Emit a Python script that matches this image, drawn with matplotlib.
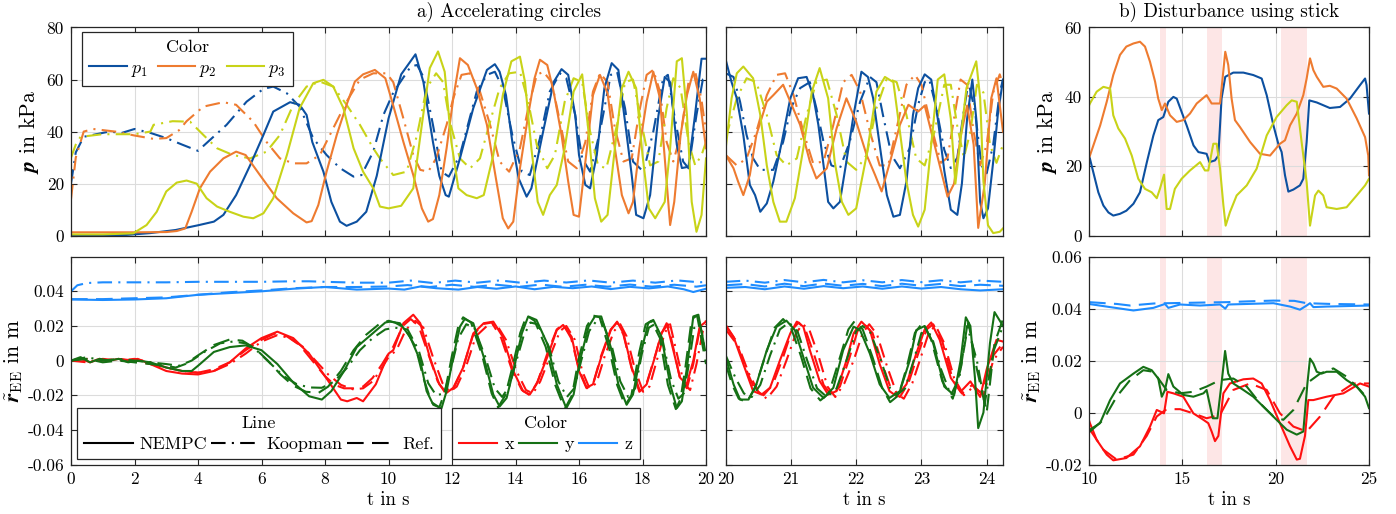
import matplotlib
matplotlib.use("Agg")
import matplotlib.pyplot as plt
from matplotlib.lines import Line2D

plt.rcParams['font.family'] = 'serif'
plt.rcParams['font.serif'] = ['cmr10']
plt.rcParams['mathtext.fontset'] = 'cm'
plt.rcParams['axes.unicode_minus'] = False
plt.rcParams['font.size'] = 12
plt.rcParams['lines.solid_joinstyle'] = 'round'
plt.rcParams['lines.dash_joinstyle'] = 'round'

# Colours
c_p1, c_p2, c_p3 = '#0c50a0', '#ee7b30', '#c8d318'
c_x, c_y, c_z = '#ff1010', '#157015', '#1e8cff'
c_shade = '#fde6e6'

# ---------------- a) accelerating circles, pressures (kPa) ----------------
p1_nempc_t = [0, 1, 1.75, 2.5, 3.3, 4.0, 4.5, 4.8, 5.2, 5.64, 6.06, 6.37, 6.9, 7.2, 7.42, 7.6, 7.95, 8.2, 8.47, 8.68,
              9.0, 9.3, 9.63, 10.0, 10.4, 10.85, 11.1, 11.4, 11.6, 11.8, 11.9, 12.25, 12.67, 13.1, 13.35, 13.5, 13.7,
              13.9, 14.1, 14.35, 14.5, 14.87, 15.2, 15.45, 15.66, 15.88, 16.0, 16.2, 16.35, 16.56, 16.8, 17.03, 17.24,
              17.45, 17.66, 17.8, 18.03, 18.24, 18.5, 18.7, 18.87, 19.08, 19.24, 19.45, 19.65, 19.86, 20.0]
p1_nempc = [0.2, 0.2, 0.3, 1.0, 2.2, 4.0, 5.4, 8.0, 15.6, 27.0, 38.7, 47.7, 51.3, 50.3, 46.4, 36.0, 24.6, 13.0, 5.4, 3.8,
            5.4, 9.2, 23.0, 45.0, 62.0, 69.7, 59.0, 36.0, 23.0, 15.6, 15.0, 29.7, 49.0, 63.7, 65.9, 63.0, 54.0,
            36.0, 22.0, 15.0, 18.2, 40.0, 59.0, 64.0, 61.8, 46.4, 31.0, 19.5, 18.2, 31.0, 56.7, 66.3, 63.7,
            43.8, 23.3, 8.0, 6.7, 15.6, 46.0, 61.0, 59.0, 35.0, 26.0, 26.5, 46.0, 68.0, 68.0]
p1_koop_t = [0, 0.15, 0.4, 0.8, 1.2, 1.6, 2.0, 2.5, 3.0, 3.5, 4.0, 4.9, 5.53, 6.06, 6.37, 6.8, 7.2, 7.63, 8.05, 8.47,
             8.9, 9.15, 9.52, 9.84, 10.15, 10.7, 10.9, 11.1, 11.4, 11.67, 11.9, 12.25, 12.78, 13.1, 13.35, 13.6, 13.9,
             14.2, 14.45, 14.77, 15.08, 15.4, 15.6, 15.88, 16.1, 16.35, 16.66, 17.0, 17.2, 17.45, 17.7, 18.03, 18.34,
             18.65, 18.8, 19.0, 19.28, 19.45, 19.7, 19.9, 20.0]
p1_koop = [20.0, 32.0, 38.0, 39.0, 40.0, 39.5, 41.0, 39.5, 37.5, 35.0, 32.6, 42.6, 51.5, 56.4, 57.3, 54.7, 49.6, 37.4,
           31.0, 26.0, 22.7, 23.3, 32.3, 46.4, 55.0, 65.0, 65.6, 61.0, 42.6, 24.6, 22.7, 31.0, 55.4, 61.8, 63.0, 56.7,
           38.7, 24.6, 23.3, 37.4, 55.4, 62.4, 60.5, 46.4, 29.7, 24.6, 40.0, 61.8, 63.0, 49.0, 28.5, 24.6, 40.0,
           60.5, 61.8, 46.4, 28.5, 25.9, 46.4, 60.0, 60.5]
p2_nempc_t = [0, 1, 2, 3, 3.33, 3.6, 3.8, 4.06, 4.38, 4.8, 5.2, 5.5, 5.95, 6.48, 7.0, 7.42, 7.58, 7.79, 8.05, 8.37,
              8.68, 8.94, 9.2, 9.57, 9.9, 10.15, 10.47, 10.78, 11.05, 11.25, 11.4, 11.6, 11.83, 12.04, 12.25, 12.5,
              12.78, 13.1, 13.4, 13.6, 13.77, 13.93, 14.14, 14.4, 14.6, 14.77, 15.0, 15.2, 15.45, 15.66, 15.83, 16.0,
              16.25, 16.44, 16.66, 16.9, 17.1, 17.35, 17.56, 17.7, 17.9, 18.13, 18.34, 18.55, 18.76, 18.87, 19.0,
              19.2, 19.4, 19.6, 19.8, 20.0]
p2_nempc = [1.3, 1.3, 1.3, 1.4, 1.8, 2.8, 9.2, 18.2, 24.6, 29.7, 32.3, 31.0, 23.3, 14.4, 8.6, 5.1, 5.6, 11.8, 24.6, 38.7,
            50.3, 59.2, 62.0, 63.7, 60.5, 50.0, 36.0, 23.3, 10.5, 5.4, 6.4, 15.6, 33.6, 52.8, 68.2, 65.6,
            56.7, 42.6, 20.8, 6.7, 2.8, 5.4, 25.9, 46.4, 60.5, 67.6, 65.6, 55.4, 38.7, 20.8, 8.0, 7.3,
            33.6, 54.0, 61.8, 54.7, 36.0, 15.6, 8.6, 13.0, 33.6, 51.5, 63.0, 52.8, 20.8, 4.1, 13.0,
            38.7, 54.0, 63.0, 52.8, 33.6]
p2_koop_t = [0, 0.15, 0.4, 0.7, 1.4, 2.0, 2.6, 3.0, 3.4, 3.64, 4.17, 4.8, 5.2, 5.74, 6.16, 6.58, 7.0, 7.42, 7.84, 8.26,
             8.68, 9.1, 9.52, 9.94, 10.15, 10.47, 10.78, 11.0, 11.25, 11.5, 11.83, 12.04, 12.3, 12.57, 12.88, 13.2,
             13.5, 13.8, 14.14, 14.4, 14.67, 14.88, 15.14, 15.4, 15.66, 15.93, 16.2, 16.44, 16.66, 16.9, 17.13, 17.4,
             17.66, 17.9, 18.13, 18.34, 18.55, 18.76, 18.97, 19.2, 19.45, 19.66, 19.85, 20.0]
p2_koop = [14.0, 30.0, 40.0, 41.0, 40.0, 38.5, 37.2, 37.5, 40.5, 44.0, 49.6, 51.3, 50.3, 43.8, 36.0, 29.7, 27.8, 27.8,
           31.0, 41.3, 51.5, 60.0, 62.4, 62.4, 59.0, 45.0, 31.0, 25.3, 24.6, 29.7, 42.6, 52.8, 61.8, 62.4, 55.4, 42.6,
           28.5, 24.6, 33.6, 49.0, 61.8, 63.0, 59.0, 43.8, 28.5, 25.9, 36.0, 55.4, 62.4, 59.0, 41.3, 28.5,
           29.7, 47.7, 61.8, 63.7, 55.4, 36.0, 28.5, 38.7, 59.0, 63.0, 52.8, 40.0]
p3_nempc_t = [0, 1, 1.96, 2.38, 2.7, 3.0, 3.33, 3.64, 3.96, 4.27, 4.6, 5.0, 5.43, 5.74, 6.06, 6.37, 6.8, 7.2, 7.63, 7.95,
              8.26, 8.58, 8.9, 9.2, 9.52, 9.73, 10.0, 10.4, 10.78, 11.05, 11.3, 11.56, 11.77, 11.98, 12.2, 12.46,
              12.78, 13.0, 13.3, 13.6, 13.87, 14.14, 14.3, 14.5, 14.7, 14.87, 15.08, 15.3, 15.55, 15.83, 16.1, 16.3,
              16.5, 16.7, 16.9, 17.13, 17.35, 17.56, 17.8, 18.0, 18.2, 18.4, 18.7, 18.87, 19.08, 19.24, 19.4, 19.55,
              19.7, 19.86, 20.0]
p3_nempc = [0.5, 0.5, 0.9, 4.1, 9.2, 17.0, 20.4, 21.2, 20.0, 14.4, 11.2, 9.2, 7.3, 6.7, 8.6, 14.4, 31.0, 49.0, 58.6, 59.9,
            57.3, 49.0, 33.6, 24.6, 18.2, 11.2, 10.5, 11.5, 18.2, 42.6, 64.4, 70.8, 63.0, 36.0, 18.2, 15.6,
            14.4, 15.6, 31.0, 54.0, 67.0, 68.8, 59.0, 33.6, 13.0, 8.0, 15.6, 19.5, 33.6, 55.4, 62.0, 40.0,
            14.4, 5.4, 8.0, 33.6, 56.7, 63.0, 56.7, 31.0, 10.5, 6.7, 13.0, 33.6, 67.0, 68.2, 46.4, 13.0,
            1.5, 8.0, 29.7]
p3_koop_t = [0, 0.15, 0.3, 1.0, 2.0, 2.5, 2.6, 3.2, 3.75, 4.17, 4.6, 5.1, 5.64, 6.16, 6.58, 7.0, 7.42, 7.84, 8.26, 8.68,
             9.1, 9.52, 9.73, 10.15, 10.57, 10.9, 11.2, 11.5, 11.72, 11.93, 12.25, 12.57, 12.88, 13.2, 13.5, 13.8,
             14.14, 14.4, 14.67, 15.0, 15.24, 15.55, 15.83, 16.1, 16.35, 16.6, 16.86, 17.2, 17.45, 17.7, 18.0, 18.24,
             18.5, 18.76, 18.97, 19.2, 19.45, 19.66, 19.86, 20.0]
p3_koop = [30.0, 35.0, 38.0, 39.0, 39.0, 40.0, 42.6, 44.0, 43.8, 38.7, 33.6, 31.0, 29.7, 32.3, 38.7, 50.3, 57.3, 59.2,
           57.3, 50.3, 42.6, 33.6, 29.7, 23.3, 24.6, 38.7, 56.7, 62.4, 59.0, 43.8, 29.7, 25.9, 29.7, 43.8, 56.7, 62.4,
           63.0, 51.5, 34.9, 25.9, 31.0, 51.5, 60.5, 59.0, 40.0, 27.0, 25.9, 42.6, 59.0, 60.0, 41.3, 27.0,
           28.5, 49.0, 60.5, 56.7, 36.0, 27.0, 31.0, 36.0]

# continuation 20 s .. 24.25 s
p1m_nempc_t = [20.0, 20.09, 20.17, 20.27, 20.37, 20.45, 20.53, 20.63, 20.73, 20.86, 20.99, 21.11, 21.24, 21.34, 21.42,
               21.5, 21.57, 21.65, 21.75, 21.85, 21.96, 22.08, 22.18, 22.26, 22.36, 22.47, 22.57, 22.67, 22.77, 22.87,
               22.95, 23.05, 23.15, 23.25, 23.35, 23.45, 23.55, 23.62, 23.7, 23.78, 23.84, 23.9, 23.95, 24.02, 24.1,
               24.17, 24.25]
p1m_nempc = [67.6, 59.0, 52.8, 38.7, 19.5, 15.6, 9.2, 12.4, 20.8, 36.0, 52.8, 60.5, 61.0, 54.0, 42.6,
             27.0, 13.0, 10.5, 13.0, 28.5, 46.4, 63.0, 61.0, 52.8, 34.9, 15.6, 7.3, 8.0, 20.8, 46.4,
             56.7, 62.0, 60.0, 45.0, 25.0, 10.0, 8.0, 20.0, 45.0, 60.0, 45.0, 13.0, 6.7, 10.5, 28.5,
             46.4, 60.0]
p1m_koop_t = [20.0, 20.12, 20.22, 20.32, 20.42, 20.53, 20.73, 20.88, 21.0, 21.14, 21.29, 21.39, 21.5, 21.62, 21.75,
              21.9, 22.06, 22.21, 22.31, 22.41, 22.54, 22.67, 22.82, 22.95, 23.05, 23.12, 23.22, 23.35, 23.45, 23.55,
              23.65, 23.72, 23.82, 23.92, 24.0, 24.1, 24.2, 24.25]
p1m_koop = [62.4, 61.0, 51.5, 38.7, 29.7, 25.3, 25.3, 36.0, 49.0, 56.7, 59.0, 49.0, 36.0, 27.0, 25.9,
            36.0, 51.5, 61.0, 59.0, 46.4, 31.0, 25.9, 33.6, 50.3, 59.0, 60.0, 50.0, 33.0, 26.0, 30.0,
            48.0, 59.0, 48.0, 27.0, 24.0, 35.0, 55.0, 60.0]
p2m_nempc_t = [20.0, 20.12, 20.19, 20.27, 20.37, 20.47, 20.63, 20.73, 20.88, 20.99, 21.14, 21.29, 21.39, 21.55, 21.7,
               21.85, 22.0, 22.16, 22.29, 22.39, 22.52, 22.67, 22.8, 22.95, 23.05, 23.15, 23.3, 23.4, 23.5, 23.6,
               23.7, 23.8, 23.87, 23.97, 24.07, 24.15, 24.25]
p2m_nempc = [31.0, 25.9, 20.8, 15.6, 23.3, 38.7, 51.5, 54.0, 58.0, 51.5, 42.6, 28.5, 22.0, 25.9, 41.3,
             52.8, 43.8, 31.0, 23.3, 17.0, 28.5, 42.6, 50.3, 47.7, 50.0, 40.0, 25.0, 15.0, 20.0, 38.0,
             50.0, 35.0, 3.0, 20.0, 52.8, 60.5, 40.0]
p2m_koop_t = [20.0, 20.17, 20.32, 20.47, 20.63, 20.78, 20.91, 21.04, 21.19, 21.34, 21.5, 21.65, 21.8, 21.93, 22.06,
              22.21, 22.36, 22.49, 22.62, 22.77, 22.9, 23.0, 23.15, 23.3, 23.4, 23.5, 23.6, 23.7, 23.8, 23.9, 24.0,
              24.1, 24.2, 24.25]
p2m_koop = [31.0, 27.0, 29.7, 40.0, 54.0, 61.8, 62.4, 54.0, 40.0, 27.8, 28.5, 42.6, 59.0, 61.8, 55.4,
            40.0, 27.0, 27.0, 41.3, 58.0, 61.8, 58.0, 42.0, 28.0, 30.0, 45.0, 60.0, 58.0, 40.0, 27.0, 35.0,
            55.0, 62.0, 58.0]
p3m_nempc_t = [20.0, 20.09, 20.17, 20.27, 20.42, 20.53, 20.63, 20.73, 20.83, 20.93, 21.06, 21.19, 21.32, 21.44, 21.57,
               21.67, 21.78, 21.88, 22.0, 22.16, 22.31, 22.44, 22.57, 22.67, 22.77, 22.87, 22.95, 23.05, 23.15, 23.25,
               23.35, 23.45, 23.52, 23.59, 23.69, 23.84, 23.9, 23.95, 24.02, 24.1, 24.2, 24.25]
p3m_nempc = [33.6, 52.8, 62.4, 65.0, 60.5, 46.4, 27.0, 13.0, 5.4, 5.4, 14.4, 33.6, 55.4, 64.4, 52.8,
             28.5, 13.0, 8.0, 10.5, 31.0, 55.4, 61.0, 59.0, 40.0, 20.8, 8.0, 3.5, 10.0, 35.0, 60.0,
             62.0, 45.0, 20.0, 35.0, 56.7, 67.0, 52.8, 20.8, 4.0, 1.0, 1.5, 2.8]
p3m_koop_t = [20.0, 20.17, 20.32, 20.47, 20.63, 20.78, 20.93, 21.09, 21.24, 21.39, 21.55, 21.7, 21.85, 22.0, 22.16,
              22.31, 22.47, 22.62, 22.77, 22.92, 23.05, 23.2, 23.35, 23.45, 23.55, 23.65, 23.75, 23.85, 23.95, 24.05,
              24.15, 24.25]
p3m_koop = [37.4, 52.8, 60.5, 59.0, 46.4, 31.0, 27.0, 29.7, 46.4, 59.0, 60.0, 46.4, 28.5, 25.3, 31.0,
            49.0, 60.5, 59.0, 46.4, 29.7, 27.0, 40.0, 58.0, 58.0, 42.0, 30.0, 40.0, 58.0, 55.0, 35.0,
            28.0, 35.0]

# ---------------- a) accelerating circles, end-effector position (m) ----------------
x_nempc_t = [0, 0.3, 0.6, 0.9, 1.2, 1.5, 1.8, 2.1, 2.5, 3.0, 3.5, 4.0, 4.5, 5.0, 5.5, 6.0, 6.5, 7.0, 7.5, 8.0, 8.5,
             8.7, 9.0, 9.2, 9.6, 10.0, 10.15, 10.47, 10.78, 11.0, 11.3, 11.6, 11.83, 12.04, 12.35, 12.67, 13.0,
             13.3, 13.6, 13.93, 14.24, 14.45, 14.66, 15.0, 15.3, 15.5, 15.77, 16.0, 16.23, 16.44, 16.7, 17.0,
             17.2, 17.4, 17.66, 17.92, 18.13, 18.39, 18.6, 18.76, 18.97, 19.18, 19.39, 19.6, 19.8, 20.0]
x_nempc = [0.0, 0.001, -0.001, 0.001, 0.0, 0.001, 0.0, 0.001, -0.002, -0.006, -0.0075, -0.008, -0.006, -0.001, 0.007,
           0.013, 0.0167, 0.013, 0.004, -0.009, -0.0225, -0.0235, -0.0216, -0.0235, -0.0137, 0.004, 0.006, 0.0216,
           0.0265, 0.0216, 0.002, -0.0137, -0.0186, -0.0157, -0.004, 0.0157, 0.0216, 0.0225, 0.0137, -0.006,
           -0.0176, -0.0196, -0.0137, 0.002, 0.0176, 0.0206, 0.0137, -0.006, -0.0157, -0.0137, 0.002, 0.0176,
           0.0225, 0.0157, -0.004, -0.0176, -0.0137, 0.002, 0.0157, 0.0216, 0.006, -0.0098, -0.0137, 0.0,
           0.0196, 0.0225]
x_koop_t = [0, 0.5, 1, 1.5, 2, 2.5, 3, 3.5, 4, 4.5, 5, 5.5, 6, 6.5, 6.9, 7.3, 7.7, 8.1, 8.5, 8.9, 9.2, 9.5, 9.8, 10.0,
            10.25, 10.55, 10.85, 11.1, 11.4, 11.7, 11.93, 12.15, 12.45, 12.75, 13.1, 13.4, 13.7, 14.03, 14.33,
            14.55, 14.78, 15.1, 15.4, 15.6, 15.87, 16.1, 16.33, 16.55, 16.8, 17.1, 17.3, 17.5, 17.76, 18.02, 18.22,
            18.48, 18.7, 18.87, 19.07, 19.3, 19.5, 19.7, 19.9, 20.0]
x_koop = [0.0, -0.001, 0.001, 0.0, 0.001, -0.001, -0.004, -0.006, -0.007, -0.006, -0.002, 0.004, 0.011, 0.0147, 0.013,
          0.008, 0.0, -0.008, -0.014, -0.0167, -0.016, -0.012, -0.004, 0.002, 0.006, 0.018, 0.023, 0.019, 0.002,
          -0.013, -0.018, -0.015, -0.003, 0.014, 0.02, 0.021, 0.012, -0.006, -0.017, -0.019, -0.012, 0.003, 0.017,
          0.02, 0.012, -0.006, -0.016, -0.013, 0.002, 0.017, 0.021, 0.014, -0.005, -0.018, -0.015, 0.002, 0.016,
          0.021, 0.005, -0.013, -0.017, -0.002, 0.017, 0.021]
x_ref_t = [0, 0.5, 1, 1.5, 2, 2.5, 3, 3.5, 4, 4.5, 5, 5.5, 6, 6.4, 6.8, 7.2, 7.6, 8.0, 8.3, 8.6, 8.9, 9.2, 9.5, 9.8, 10.0,
           10.15, 10.45, 10.7, 10.95, 11.25, 11.55, 11.8, 12.05, 12.35, 12.65, 12.95, 13.25, 13.55, 13.9, 14.2,
           14.45, 14.7, 15.0, 15.3, 15.5, 15.75, 16.0, 16.25, 16.45, 16.7, 17.0, 17.2, 17.4, 17.65, 17.9, 18.1,
           18.4, 18.6, 18.8, 19.0, 19.2, 19.4, 19.6, 19.8, 20.0]
x_ref = [0.0, 0.001, 0.0, 0.001, 0.0, -0.002, -0.004, -0.006, -0.007, -0.005, -0.001, 0.006, 0.012, 0.0155, 0.014,
         0.009, 0.0, -0.009, -0.014, -0.016, -0.016, -0.015, -0.010, -0.002, 0.004, 0.008, 0.02, 0.024, 0.02, 0.004,
         -0.012, -0.019, -0.016, -0.004, 0.014, 0.021, 0.022, 0.013, -0.006, -0.017, -0.02, -0.012, 0.004, 0.018,
         0.021, 0.013, -0.005, -0.016, -0.013, 0.003, 0.018, 0.022, 0.015, -0.004, -0.018, -0.015, 0.003, 0.016,
         0.021, 0.005, -0.012, -0.016, -0.002, 0.018, 0.023]
y_nempc_t = [0, 0.3, 0.6, 0.9, 1.2, 1.5, 1.8, 2.1, 2.5, 3.0, 3.5, 3.8, 4.0, 4.5, 5.0, 5.5, 6.0, 6.5, 7.0, 7.5, 7.9, 8.2,
             8.6, 9.0, 9.5, 9.9, 10.05, 10.36, 10.68, 11.0, 11.2, 11.41, 11.67, 11.83, 12.04, 12.25, 12.4, 12.67,
             13.0, 13.3, 13.5, 13.72, 13.93, 14.2, 14.4, 14.66, 15.0, 15.3, 15.6, 15.83, 16.03, 16.3, 16.5, 16.7,
             17.0, 17.24, 17.5, 17.7, 17.97, 18.18, 18.34, 18.6, 18.87, 19.08, 19.24, 19.4, 19.6, 19.76, 19.97]
y_nempc = [0.0, 0.002, -0.001, 0.001, 0.0, 0.001, -0.001, 0.0, -0.001, -0.004, -0.006, -0.006, -0.003, 0.005, 0.0078,
           0.0088, 0.006, -0.002, -0.0127, -0.0206, -0.0225, -0.0176, -0.006, 0.0078, 0.0157, 0.022, 0.0225, 0.0216,
           0.0137, 0.0, -0.0176, -0.0255, -0.0275, -0.0176, 0.002, 0.0196, 0.024, 0.0216, 0.002, -0.0196, -0.0265,
           -0.0216, -0.006, 0.0157, 0.0255, 0.0235, 0.0098, -0.0137, -0.0275, -0.0196, 0.0, 0.0196, 0.0255, 0.0255,
           0.0078, -0.0137, -0.0255, -0.0196, 0.006, 0.0216, 0.0235, 0.0137, -0.0137, -0.0275, -0.0235, -0.004,
           0.0255, 0.0265, 0.006]
y_koop_t = [0, 0.5, 1, 1.5, 2, 2.5, 3, 3.4, 3.8, 4.2, 4.7, 5.1, 5.5, 5.9, 6.3, 6.7, 7.1, 7.5, 7.9, 8.3, 8.7, 9.1, 9.5,
            9.9, 10.2, 10.6, 10.95, 11.25, 11.5, 11.75, 11.95, 12.2, 12.45, 12.7, 13.05, 13.35, 13.58, 13.8, 14.0,
            14.25, 14.47, 14.7, 15.05, 15.35, 15.62, 15.85, 16.07, 16.32, 16.55, 16.75, 17.05, 17.3, 17.55, 17.77,
            17.98, 18.2, 18.38, 18.63, 18.9, 19.13, 19.3, 19.45, 19.63, 19.8, 19.97]
y_koop = [0.0, 0.002, 0.0, 0.001, 0.0, -0.001, -0.002, -0.003, 0.0, 0.005, 0.010, 0.011, 0.010, 0.005, -0.002, -0.009,
          -0.0135, -0.0155, -0.0157, -0.012, -0.004, 0.006, 0.013, 0.018, 0.019, 0.018, 0.006, -0.013, -0.02, -0.019,
          -0.006, 0.013, 0.021, 0.019, 0.002, -0.016, -0.021, -0.015, -0.002, 0.014, 0.022, 0.021, 0.008, -0.012,
          -0.021, -0.016, 0.0, 0.017, 0.023, 0.022, 0.007, -0.012, -0.021, -0.016, 0.004, 0.019, 0.021, 0.012,
          -0.011, -0.022, -0.019, -0.003, 0.019, 0.022, 0.006]
y_ref_t = [0, 0.5, 1, 1.5, 2, 2.5, 3, 3.3, 3.6, 4.0, 4.5, 5.0, 5.4, 5.8, 6.2, 6.6, 7.0, 7.4, 7.8, 8.1, 8.5, 8.9, 9.3,
           9.7, 10.0, 10.2, 10.5, 10.85, 11.1, 11.35, 11.6, 11.78, 12.0, 12.2, 12.35, 12.6, 12.95, 13.25, 13.45,
           13.68, 13.9, 14.15, 14.35, 14.6, 14.95, 15.25, 15.55, 15.78, 15.98, 16.25, 16.45, 16.65, 16.95, 17.2,
           17.45, 17.65, 17.9, 18.1, 18.28, 18.55, 18.8, 19.05, 19.2, 19.35, 19.55, 19.72, 19.92, 20.0]
y_ref = [0.0, 0.001, -0.001, 0.0, -0.001, -0.002, -0.003, -0.004, -0.002, 0.003, 0.009, 0.0122, 0.0115, 0.007, 0.0,
         -0.008, -0.0145, -0.018, -0.0186, -0.015, -0.006, 0.006, 0.015, 0.021, 0.023, 0.022, 0.019, 0.008, -0.01,
         -0.024, -0.027, -0.018, 0.003, 0.02, 0.025, 0.022, 0.003, -0.019, -0.027, -0.02, -0.004, 0.016, 0.026,
         0.023, 0.008, -0.014, -0.028, -0.02, 0.0, 0.02, 0.026, 0.025, 0.007, -0.014, -0.026, -0.02, 0.005, 0.021,
         0.023, 0.013, -0.014, -0.028, -0.022, -0.004, 0.024, 0.026, 0.006, -0.002]
z_nempc_t = [0, 1, 2, 3, 4, 5, 6, 7, 7.5, 8, 9, 10, 10.5, 11, 11.5, 12.2, 12.8, 13.4, 14.0, 14.6, 15.2, 15.8, 16.4, 17.0,
             17.6, 18.2, 18.8, 19.3, 19.6, 20.0]
z_nempc = [0.0353, 0.035, 0.0353, 0.036, 0.038, 0.039, 0.040, 0.0415, 0.042, 0.0425, 0.041, 0.0416, 0.0410, 0.0428,
           0.0418, 0.0410, 0.0425, 0.0415, 0.0428, 0.0412, 0.0426, 0.0418, 0.0428, 0.0413, 0.0426, 0.0417, 0.0428,
           0.0412, 0.0396, 0.0415]
z_koop_t = [0, 0.2, 0.5, 1, 2, 3, 4, 5, 6, 7, 7.5, 8, 9, 10, 10.7, 11.4, 12.1, 12.8, 13.5, 14.2, 14.9, 15.6, 16.3, 17.0,
            17.7, 18.4, 19.1, 19.8, 20.0]
z_koop = [0.040, 0.0435, 0.0448, 0.0452, 0.0452, 0.0452, 0.0455, 0.0455, 0.0455, 0.0458, 0.0458, 0.0455, 0.045, 0.045,
          0.0462, 0.0448, 0.0462, 0.0450, 0.0463, 0.0449, 0.0462, 0.0451, 0.0463, 0.0450, 0.0462, 0.0450, 0.0463,
          0.0452, 0.0455]
z_ref_t = [0, 1, 2, 3, 4, 5, 6, 7, 8, 9, 10, 10.6, 11.3, 12.0, 12.7, 13.4, 14.1, 14.8, 15.5, 16.2, 16.9, 17.6, 18.3,
           19.0, 19.7, 20.0]
z_ref = [0.0355, 0.0355, 0.036, 0.0365, 0.038, 0.0395, 0.0405, 0.0418, 0.0425, 0.0425, 0.0428, 0.0436, 0.0425, 0.0438,
         0.0426, 0.0438, 0.0426, 0.0439, 0.0426, 0.0438, 0.0427, 0.0439, 0.0427, 0.0438, 0.0427, 0.0435]

xm_nempc_t = [20.0, 20.12, 20.27, 20.42, 20.55, 20.68, 20.83, 20.99, 21.09, 21.19, 21.29, 21.44, 21.57, 21.7, 21.85,
              21.96, 22.08, 22.21, 22.36, 22.51, 22.62, 22.77, 22.92, 23.05, 23.15, 23.28, 23.45, 23.6, 23.75, 23.9,
              24.0, 24.15, 24.25]
xm_nempc = [0.0206, 0.0137, -0.002, -0.0176, -0.0196, -0.0157, 0.0, 0.0157, 0.0225, 0.0196, 0.006, -0.0118, -0.0196,
            -0.0176, 0.0, 0.0157, 0.0225, 0.0176, -0.002, -0.0176, -0.0206, -0.0137, 0.004, 0.018, 0.022, 0.012, -0.01,
            -0.018, -0.012, -0.021, -0.005, 0.012, 0.011]
xm_koop_t = [20.0, 20.2, 20.35, 20.5, 20.63, 20.78, 20.93, 21.08, 21.18, 21.28, 21.42, 21.56, 21.68, 21.82, 21.96,
             22.1, 22.2, 22.32, 22.47, 22.62, 22.73, 22.86, 23.0, 23.12, 23.22, 23.35, 23.5, 23.65, 23.8, 23.95, 24.1,
             24.25]
xm_koop = [0.018, 0.008, -0.007, -0.018, -0.022, -0.015, 0.0, 0.016, 0.021, 0.018, 0.003, -0.015, -0.021, -0.013, 0.0,
           0.016, 0.021, 0.015, -0.003, -0.019, -0.022, -0.013, 0.003, 0.017, 0.02, 0.01, -0.01, -0.02, -0.015, -0.02,
           0.0, 0.008]
xm_ref_t = [20.0, 20.15, 20.3, 20.45, 20.58, 20.72, 20.88, 21.02, 21.12, 21.22, 21.35, 21.5, 21.62, 21.75, 21.9, 22.02,
            22.12, 22.25, 22.4, 22.55, 22.67, 22.8, 22.95, 23.08, 23.18, 23.32, 23.48, 23.62, 23.78, 23.92, 24.08,
            24.25]
xm_ref = [0.020, 0.012, -0.004, -0.017, -0.02, -0.014, 0.002, 0.018, 0.022, 0.018, 0.004, -0.014, -0.02, -0.015, 0.002,
          0.017, 0.021, 0.016, -0.002, -0.018, -0.021, -0.013, 0.004, 0.018, 0.021, 0.011, -0.011, -0.019, -0.014,
          -0.019, 0.002, 0.01]
ym_nempc_t = [20.0, 20.12, 20.22, 20.35, 20.47, 20.63, 20.78, 20.93, 21.06, 21.19, 21.34, 21.5, 21.65, 21.8, 21.96,
              22.06, 22.21, 22.36, 22.51, 22.67, 22.82, 22.92, 23.05, 23.18, 23.35, 23.5, 23.6, 23.68, 23.75, 23.82,
              23.87, 23.95, 24.05, 24.12, 24.25]
ym_nempc = [0.002, -0.0137, -0.0225, -0.0225, -0.0137, 0.006, 0.0196, 0.0231, 0.0176, 0.002, -0.0157, -0.0216,
            -0.0157, 0.006, 0.0196, 0.0176, 0.004, -0.0137, -0.0216, -0.0176, 0.0, 0.0176, 0.02, 0.01, -0.015, -0.02,
            0.0, 0.025, 0.02, -0.01, -0.039, -0.03, 0.01, 0.028, 0.02]
ym_koop_t = [20.0, 20.15, 20.28, 20.4, 20.53, 20.68, 20.83, 20.97, 21.1, 21.25, 21.4, 21.55, 21.7, 21.85, 22.0, 22.1,
             22.22, 22.38, 22.52, 22.62, 22.75, 22.88, 23.0, 23.15, 23.3, 23.45, 23.58, 23.7, 23.85, 23.97, 24.1,
             24.25]
ym_koop = [0.003, -0.01, -0.019, -0.021, -0.014, 0.003, 0.018, 0.022, 0.017, 0.0, -0.016, -0.021, -0.016, 0.0, 0.017,
           0.02, 0.016, 0.0, -0.016, -0.02, -0.016, 0.0, 0.016, 0.015, -0.005, -0.02, -0.01, 0.02, 0.0, -0.025, 0.005,
           0.02]
ym_ref_t = [20.0, 20.1, 20.2, 20.32, 20.45, 20.6, 20.75, 20.88, 21.0, 21.15, 21.3, 21.45, 21.58, 21.72, 21.88, 21.98,
            22.1, 22.25, 22.4, 22.52, 22.65, 22.78, 22.9, 23.02, 23.15, 23.32, 23.48, 23.6, 23.72, 23.85, 24.0, 24.12,
            24.25]
ym_ref = [-0.002, -0.014, -0.022, -0.024, -0.016, 0.002, 0.019, 0.024, 0.019, 0.003, -0.016, -0.023, -0.019, -0.002,
          0.018, 0.023, 0.018, 0.002, -0.016, -0.024, -0.02, -0.003, 0.016, 0.022, 0.012, -0.012, -0.022, -0.005,
          0.022, -0.005, -0.03, 0.01, 0.024]
zm_nempc_t = [20.0, 20.3, 20.6, 20.9, 21.2, 21.5, 21.8, 22.1, 22.4, 22.7, 23.0, 23.3, 23.6, 23.9, 24.25]
zm_nempc = [0.042, 0.0425, 0.0412, 0.0428, 0.0415, 0.043, 0.0418, 0.0428, 0.0415, 0.0428, 0.0416, 0.0425, 0.0412,
            0.0405, 0.0412]
zm_koop_t = [20.0, 20.3, 20.6, 20.9, 21.2, 21.5, 21.8, 22.1, 22.4, 22.7, 23.0, 23.3, 23.6, 23.9, 24.25]
zm_koop = [0.0455, 0.0462, 0.045, 0.0465, 0.0452, 0.0466, 0.0452, 0.0464, 0.0452, 0.0465, 0.0453, 0.0464, 0.0452,
           0.0462, 0.0455]
zm_ref_t = [20.0, 20.3, 20.6, 20.9, 21.2, 21.5, 21.8, 22.1, 22.4, 22.7, 23.0, 23.3, 23.6, 23.9, 24.25]
zm_ref = [0.0435, 0.0442, 0.0428, 0.0444, 0.043, 0.0445, 0.0432, 0.0443, 0.043, 0.0444, 0.0432, 0.0443, 0.043, 0.0438,
          0.0432]

# ---------------- b) disturbance using stick ----------------
stick_spans = [(13.8, 14.13), (16.32, 17.13), (20.29, 21.68)]
pb1_t = [10.0, 10.05, 10.23, 10.5, 10.77, 11.04, 11.3, 11.66, 12.0, 12.38, 12.73, 13.1, 13.45, 13.71, 13.98, 14.25, 14.52,
         14.7, 14.96, 15.23, 15.6, 15.86, 16.3, 16.45, 16.75, 16.93, 17.1, 17.3, 17.73, 18.27, 18.8, 19.25, 19.52,
         19.88, 20.14, 20.32, 20.5, 20.68, 20.95, 21.3, 21.48, 21.66, 21.8, 22.2, 22.55, 22.9, 23.45, 23.98, 24.52,
         24.79, 24.87, 25.0]
pb1 = [23.0, 22.2, 18.3, 12.5, 8.7, 6.7, 5.8, 6.3, 7.2, 9.2, 12.5, 21.2, 28.9, 33.3, 34.2, 38.6, 40.0,
       39.5, 35.7, 31.8, 26.0, 24.1, 23.6, 21.2, 21.7, 23.1, 39.5, 45.8, 47.0, 47.0, 46.3, 45.3, 40.5,
       31.8, 26.5, 24.1, 17.4, 12.7, 13.3, 14.5, 16.4, 27.0, 39.0, 38.4, 37.6, 36.8, 37.1, 39.5, 43.4,
       45.3, 43.4, 35.2]
pb2_t = [10.0, 10.05, 10.6, 10.95, 11.3, 11.66, 12.0, 12.38, 12.73, 13.0, 13.27, 13.54, 13.71, 13.9, 14.07, 14.34, 14.7,
         15.05, 15.41, 15.77, 16.3, 16.57, 17.02, 17.3, 17.46, 17.64, 17.82, 18.09, 18.63, 19.16, 19.7, 20.23, 20.5,
         20.77, 21.13, 21.48, 21.66, 21.84, 22.02, 22.2, 22.55, 22.9, 23.27, 23.8, 24.34, 24.79, 24.96, 25.0]
pb2 = [22.5, 23.1, 31.8, 38.6, 46.3, 52.1, 54.5, 55.4, 55.9, 54.5, 50.1, 44.4, 39.5, 36.2, 38.1, 34.7, 32.8,
       33.3, 35.2, 38.1, 40.5, 38.1, 38.1, 53.0, 49.2, 39.5, 33.3, 31.3, 27.0, 23.6, 23.1, 26.5, 27.5,
       31.8, 35.2, 40.5, 45.3, 51.1, 47.7, 45.8, 42.9, 43.2, 42.4, 39.5, 33.8, 28.4, 23.1, 17.4]
pb3_t = [10.0, 10.05, 10.41, 10.77, 11.13, 11.3, 11.57, 11.93, 12.29, 12.64, 13.0, 13.36, 13.63, 13.8, 14.02, 14.16,
         14.34, 14.6, 14.96, 15.41, 15.95, 16.21, 16.39, 16.66, 16.84, 17.02, 17.2, 17.32, 17.55, 17.91, 18.45,
         18.98, 19.52, 20.05, 20.59, 20.86, 21.13, 21.39, 21.66, 21.84, 22.11, 22.29, 22.55, 22.73, 23.27, 23.8,
         24.34, 24.79, 25.0]
pb3 = [37.5, 38.1, 41.5, 42.9, 42.4, 34.7, 30.9, 28.0, 23.1, 16.4, 13.5, 12.5, 10.8, 13.5, 17.6, 7.7,
       7.7, 13.5, 16.4, 18.8, 21.2, 18.8, 18.8, 26.5, 26.5, 19.3, 8.7, 2.9, 6.8, 11.6, 14.5,
       19.3, 28.9, 34.2, 37.6, 39.0, 38.6, 27.0, 15.4, 2.9, 11.6, 13.0, 11.6, 8.2, 7.7, 8.2,
       11.6, 14.5, 16.4]

xb_nempc_t = [10.0, 10.05, 10.41, 10.95, 11.3, 12.0, 12.73, 13.27, 13.63, 14.02, 14.2, 14.52, 15.05, 15.59, 16.13, 16.39,
              16.57, 16.75, 16.93, 17.2, 17.55, 18.27, 18.8, 19.25, 19.7, 20.23, 20.77, 21.13, 21.3, 21.57, 21.75,
              22.02, 22.73, 23.63, 24.52, 25.0]
xb_nempc = [-0.003, -0.0041, -0.0105, -0.0162, -0.0184, -0.0175, -0.013, -0.0054, 0.001, -0.0003, 0.008, 0.0074,
            0.0061, -0.0003, -0.0028, -0.0041, -0.0073, -0.011, -0.009, 0.0074, 0.0112, 0.0128, 0.0131, 0.0112,
            0.0048, -0.0041, -0.013, -0.0181, -0.0178, -0.009, 0.0048, 0.0048, 0.0061, 0.0074, 0.0112, 0.01]
xb_ref_t = [10.0, 10.05, 10.77, 11.48, 12.38, 13.09, 13.63, 14.16, 14.88, 15.59, 16.3, 17.02, 17.73, 18.63, 19.52, 20.23,
            20.95, 21.66, 22.38, 23.09, 24.16, 25.0]
xb_ref = [-0.006, -0.0066, -0.0143, -0.0181, -0.0162, -0.009, -0.0015, 0.0013, 0.0013, -0.0003, -0.0022, -0.0009,
          0.0087, 0.0112, 0.0087, -0.0003, -0.0054, -0.0073, -0.0015, 0.0061, 0.0112, 0.0112]
yb_nempc_t = [10.0, 10.05, 10.59, 11.13, 11.66, 12.38, 12.91, 13.36, 13.71, 13.9, 14.07, 14.25, 14.52, 15.05, 15.59,
              16.13, 16.3, 16.63, 16.88, 17.1, 17.29, 17.46, 17.73, 18.27, 18.8, 19.52, 20.05, 20.59, 21.13, 21.48,
              21.7, 21.84, 22.02, 22.2, 22.46, 22.73, 23.27, 23.8, 24.34, 24.79, 25.0]
yb_nempc = [-0.0068, -0.0066, -0.0041, 0.0048, 0.0112, 0.015, 0.0176, 0.0163, 0.0131, 0.0061, 0.0087, 0.0148, 0.01,
            0.0068, 0.0061, 0.0074, 0.0087, -0.0022, -0.0022, 0.0112, 0.0237, 0.015, 0.0112, 0.0087, 0.0061, 0.001,
            -0.0028, -0.0066, -0.0085, -0.0073, 0.0112, 0.0208, 0.0189, 0.0157, 0.015, 0.0157, 0.0157, 0.0125, 0.01,
            0.0061, 0.0017]
yb_ref_t = [10.0, 10.05, 10.77, 11.48, 12.2, 12.91, 13.45, 14.16, 14.88, 15.59, 16.3, 17.02, 17.73, 18.45, 19.16,
            19.88, 20.41, 20.95, 21.66, 22.38, 23.09, 23.8, 24.52, 25.0]
yb_ref = [-0.0075, -0.0073, -0.0028, 0.0061, 0.0125, 0.0163, 0.0157, 0.0087, 0.0074, 0.008, 0.01, 0.0125, 0.0131,
          0.01, 0.0036, -0.0015, -0.0028, 0.001, 0.0112, 0.015, 0.017, 0.0138, 0.0087, 0.0048]
zb_nempc_t = [10.0, 11.13, 12.38, 13.45, 14.07, 14.25, 14.88, 15.95, 17.02, 17.3, 17.46, 18.45, 19.88, 20.77, 21.3,
              21.66, 21.84, 22.02, 22.73, 25.0]
zb_nempc = [0.0418, 0.0406, 0.0393, 0.0403, 0.0418, 0.0403, 0.0416, 0.0412, 0.0416, 0.040, 0.0416, 0.0418, 0.0421,
            0.0408, 0.0396, 0.0412, 0.0421, 0.0406, 0.0408, 0.0412]
zb_ref_t = [10.0, 11.5, 12.2, 13.5, 15.0, 16.5, 17.38, 18.5, 19.88, 21.0, 21.66, 23.0, 25.0]
zb_ref = [0.0425, 0.0418, 0.0412, 0.042, 0.0422, 0.0424, 0.0425, 0.0428, 0.0431, 0.043, 0.0421, 0.0418, 0.0416]

xticks_a = [0, 2, 4, 6, 8, 10, 12, 14, 16, 18, 20]
xticks_m = [20, 21, 22, 23, 24]
xticks_b = [10, 15, 20, 25]
pticks_a = [0, 20, 40, 60, 80]
pticks_b = [0, 20, 40, 60]
rticks_a = [-0.06, -0.04, -0.02, 0, 0.02, 0.04]
rticks_a_labels = ['-0.06', '-0.04', '-0.02', '0', '0.02', '0.04']
rticks_b = [-0.02, 0, 0.02, 0.04, 0.06]
rticks_b_labels = ['-0.02', '0', '0.02', '0.04', '0.06']

# ---------------- figure ----------------
W, H = 1396, 514
fig = plt.figure(figsize=(W / 100, H / 100), dpi=100)


def box(x0, y0, x1, y1):
    return [x0 / W, 1 - y1 / H, (x1 - x0) / W, (y1 - y0) / H]


ax_pa = fig.add_axes(box(71, 27.5, 706, 235.7))
ax_pm = fig.add_axes(box(725.7, 27.5, 1003, 235.7))
ax_pb = fig.add_axes(box(1089, 27.5, 1369, 235.7))
ax_ra = fig.add_axes(box(71, 256.7, 706, 464.5))
ax_rm = fig.add_axes(box(725.7, 256.7, 1003, 464.5))
ax_rb = fig.add_axes(box(1089, 256.7, 1369, 464.5))

lw = 1.5
dd = (0, (7, 3, 1, 3))  # dash-dot
dsh = (0, (8, 4))        # dashed

for ax in [ax_pb, ax_rb]:
    for a, b in stick_spans:
        ax.axvspan(a, b, color=c_shade, lw=0, zorder=0)

# pressure curves
ax_pa.plot(p1_koop_t, p1_koop, color=c_p1, lw=lw, ls=dd)
ax_pa.plot(p2_koop_t, p2_koop, color=c_p2, lw=lw, ls=dd)
ax_pa.plot(p3_koop_t, p3_koop, color=c_p3, lw=lw, ls=dd)
ax_pa.plot(p1_nempc_t, p1_nempc, color=c_p1, lw=lw)
ax_pa.plot(p2_nempc_t, p2_nempc, color=c_p2, lw=lw)
ax_pa.plot(p3_nempc_t, p3_nempc, color=c_p3, lw=lw)

ax_pm.plot(p1m_koop_t, p1m_koop, color=c_p1, lw=lw, ls=dd)
ax_pm.plot(p2m_koop_t, p2m_koop, color=c_p2, lw=lw, ls=dd)
ax_pm.plot(p3m_koop_t, p3m_koop, color=c_p3, lw=lw, ls=dd)
ax_pm.plot(p1m_nempc_t, p1m_nempc, color=c_p1, lw=lw)
ax_pm.plot(p2m_nempc_t, p2m_nempc, color=c_p2, lw=lw)
ax_pm.plot(p3m_nempc_t, p3m_nempc, color=c_p3, lw=lw)

ax_pb.plot(pb1_t, pb1, color=c_p1, lw=lw)
ax_pb.plot(pb2_t, pb2, color=c_p2, lw=lw)
ax_pb.plot(pb3_t, pb3, color=c_p3, lw=lw)

# position curves
ax_ra.plot(x_ref_t, x_ref, color=c_x, lw=lw, ls=dsh)
ax_ra.plot(x_koop_t, x_koop, color=c_x, lw=lw, ls=dd)
ax_ra.plot(x_nempc_t, x_nempc, color=c_x, lw=lw)
ax_ra.plot(y_ref_t, y_ref, color=c_y, lw=lw, ls=dsh)
ax_ra.plot(y_koop_t, y_koop, color=c_y, lw=lw, ls=dd)
ax_ra.plot(y_nempc_t, y_nempc, color=c_y, lw=lw)
ax_ra.plot(z_ref_t, z_ref, color=c_z, lw=lw, ls=dsh)
ax_ra.plot(z_koop_t, z_koop, color=c_z, lw=lw, ls=dd)
ax_ra.plot(z_nempc_t, z_nempc, color=c_z, lw=lw)

ax_rm.plot(xm_ref_t, xm_ref, color=c_x, lw=lw, ls=dsh)
ax_rm.plot(xm_koop_t, xm_koop, color=c_x, lw=lw, ls=dd)
ax_rm.plot(xm_nempc_t, xm_nempc, color=c_x, lw=lw)
ax_rm.plot(ym_ref_t, ym_ref, color=c_y, lw=lw, ls=dsh)
ax_rm.plot(ym_koop_t, ym_koop, color=c_y, lw=lw, ls=dd)
ax_rm.plot(ym_nempc_t, ym_nempc, color=c_y, lw=lw)
ax_rm.plot(zm_ref_t, zm_ref, color=c_z, lw=lw, ls=dsh)
ax_rm.plot(zm_koop_t, zm_koop, color=c_z, lw=lw, ls=dd)
ax_rm.plot(zm_nempc_t, zm_nempc, color=c_z, lw=lw)

ax_rb.plot(xb_ref_t, xb_ref, color=c_x, lw=lw, ls=dsh)
ax_rb.plot(xb_nempc_t, xb_nempc, color=c_x, lw=lw)
ax_rb.plot(yb_ref_t, yb_ref, color=c_y, lw=lw, ls=dsh)
ax_rb.plot(yb_nempc_t, yb_nempc, color=c_y, lw=lw)
ax_rb.plot(zb_ref_t, zb_ref, color=c_z, lw=lw, ls=dsh)
ax_rb.plot(zb_nempc_t, zb_nempc, color=c_z, lw=lw)

# axes cosmetics
for ax in [ax_pa, ax_pm, ax_pb, ax_ra, ax_rm, ax_rb]:
    ax.grid(True, color='#dcdcdc', lw=0.8)
    ax.set_axisbelow(True)
    ax.tick_params(direction='in', top=True, right=True, length=4, width=0.8, color='#262626',
                   labelsize=12.5, pad=5)
    for s in ax.spines.values():
        s.set_color('#262626')
        s.set_linewidth(0.9)

ax_pa.set_xlim(0, 20); ax_ra.set_xlim(0, 20)
ax_pm.set_xlim(20, 24.25); ax_rm.set_xlim(20, 24.25)
ax_pb.set_xlim(10, 25); ax_rb.set_xlim(10, 25)
for ax in [ax_pa, ax_pm]:
    ax.set_ylim(0, 80)
    ax.set_yticks(pticks_a)
for ax in [ax_ra, ax_rm]:
    ax.set_ylim(-0.06, 0.06)
    ax.set_yticks(rticks_a)
ax_ra.set_yticklabels(rticks_a_labels)
ax_pb.set_ylim(0, 60); ax_pb.set_yticks(pticks_b)
ax_rb.set_ylim(-0.02, 0.06); ax_rb.set_yticks(rticks_b)
ax_rb.set_yticklabels(rticks_b_labels)
ax_pm.set_yticklabels([]); ax_rm.set_yticklabels([])

ax_pa.set_xticks(xticks_a); ax_ra.set_xticks(xticks_a)
ax_pm.set_xticks(xticks_m); ax_rm.set_xticks(xticks_m)
ax_pb.set_xticks(xticks_b); ax_rb.set_xticks(xticks_b)
for ax in [ax_pa, ax_pm, ax_pb]:
    ax.set_xticklabels([])

for ax in [ax_ra, ax_rm, ax_rb]:
    ax.set_xlabel('t in s', fontsize=13.5, labelpad=3)
ax_pa.set_ylabel(r'$\boldsymbol{p}$ in kPa', fontsize=15.5, labelpad=4)
ax_pb.set_ylabel(r'$\boldsymbol{p}$ in kPa', fontsize=15.5, labelpad=4)
ax_ra.set_ylabel(r'$\tilde{\boldsymbol{r}}_{\mathrm{EE}}$ in m', fontsize=15.5, labelpad=2)
ax_rb.set_ylabel(r'$\tilde{\boldsymbol{r}}_{\mathrm{EE}}$ in m', fontsize=15.5, labelpad=2)

fig.text(509 / W, 1 - 12 / H, 'a) Accelerating circles', ha='center', va='center', fontsize=13.75)
fig.text(1229 / W, 1 - 12 / H, 'b) Disturbance using stick', ha='center', va='center', fontsize=13.75)

# legends
leg_kw = dict(frameon=True, fancybox=False, framealpha=1, edgecolor='#262626', fontsize=13,
              title_fontsize=13, borderaxespad=0, borderpad=0.4, labelspacing=0.3)

h_p = [Line2D([], [], color=c, lw=lw) for c in (c_p1, c_p2, c_p3)]
lg = ax_pa.legend(h_p, [r'$p_1$', r'$p_2$', r'$p_3$'], title='Color', ncol=3, loc='upper left',
                  bbox_to_anchor=(0.017, 0.978), handlelength=2.1, handletextpad=0.2, columnspacing=0.55,
                  **leg_kw)
lg.get_frame().set_linewidth(0.9)

h_l = [Line2D([], [], color='k', lw=lw, ls=s) for s in ('-', dd, dsh)]
lg1 = ax_ra.legend(h_l, ['NEMPC', 'Koopman', 'Ref.'], title='Line', ncol=3, loc='lower left',
                   bbox_to_anchor=(0.0094, 0.026), handlelength=2.7, handletextpad=0.35, columnspacing=0.25,
                   **leg_kw)
lg1.get_frame().set_linewidth(0.9)
ax_ra.add_artist(lg1)
h_c = [Line2D([], [], color=c, lw=lw) for c in (c_x, c_y, c_z)]
lg2 = ax_ra.legend(h_c, ['x', 'y', 'z'], title='Color', ncol=3, loc='lower left',
                   bbox_to_anchor=(0.6, 0.026), handlelength=2.1, handletextpad=0.4, columnspacing=0.3,
                   **leg_kw)
lg2.get_frame().set_linewidth(0.9)

fig.savefig('out.png', dpi=100)
